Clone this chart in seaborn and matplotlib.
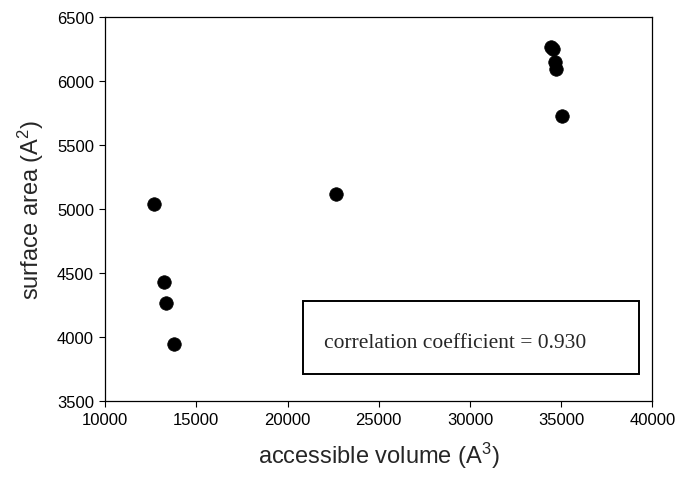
import seaborn as sns
import matplotlib.pyplot as plt
import pandas as pd
from matplotlib.patches import Rectangle

# values
volume = [12680, 13220, 13330, 13770, 22650, 34460, 34540, 34650, 34700, 35040]
area = [5040, 4430, 4265, 3945, 5115, 6262, 6248, 6150, 6095, 5730]
x_ticks = [10000, 15000, 20000, 25000, 30000, 35000, 40000]
y_ticks = [3500, 4000, 4500, 5000, 5500, 6000, 6500]
corr_text = 'correlation coefficient = 0.930'

data = pd.DataFrame({'volume': volume, 'area': area})

sns.set_style('ticks')
plt.rcParams['font.family'] = ['Liberation Sans', 'DejaVu Sans']
plt.rcParams['mathtext.fontset'] = 'custom'
plt.rcParams['mathtext.rm'] = 'Liberation Sans'
plt.rcParams['mathtext.it'] = 'Liberation Sans'
plt.rcParams['mathtext.default'] = 'regular'

fig = plt.figure(figsize=(6.8, 4.85), dpi=100)
ax = fig.add_axes([0.1545, 0.171, 0.805, 0.792])

sns.scatterplot(data=data, x='volume', y='area', ax=ax, color='black',
                s=95, edgecolor='black', linewidth=0.5, zorder=3)

ax.set_xlim(10000, 40000)
ax.set_ylim(3500, 6500)
ax.set_xticks(x_ticks)
ax.set_yticks(y_ticks)
ax.tick_params(direction='out', length=4.5, width=0.8, labelsize=12,
               colors='black', pad=3.5)
for sp in ax.spines.values():
    sp.set_color('black')
    sp.set_linewidth(0.9)

ax.set_xlabel('accessible volume (A$^{3}$)', fontsize=17, labelpad=9)
ax.set_ylabel('surface area (A$^{2}$)', fontsize=17, labelpad=8)

# correlation box (axes fraction coordinates)
box = Rectangle((0.3625, 0.07), 0.612, 0.19, transform=ax.transAxes,
                fill=False, edgecolor='black', linewidth=1.4, zorder=4)
ax.add_patch(box)
ax.text(0.4, 0.153, corr_text, transform=ax.transAxes, ha='left', va='center',
        fontsize=15.5, family=['Liberation Serif', 'DejaVu Serif'])

fig.savefig('out.png', dpi=100)
